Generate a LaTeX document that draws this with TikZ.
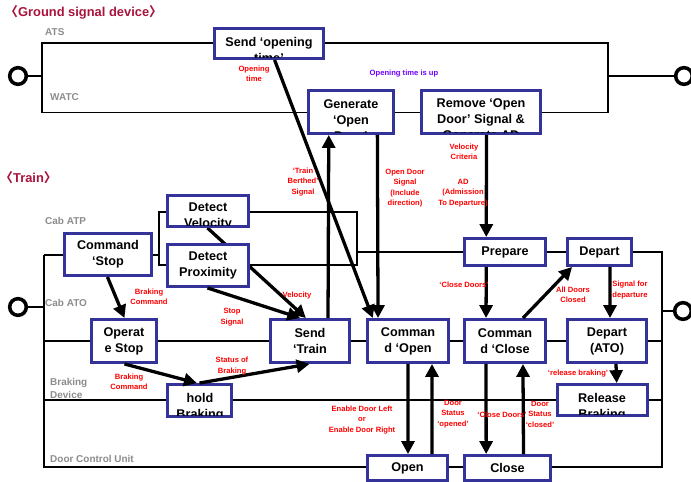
\documentclass[tikz,border=0pt]{standalone}
\usepackage{fontspec}
\setmainfont{Liberation Sans}
\newfontfamily\cjkfont{Noto Sans CJK SC}
\usetikzlibrary{arrows.meta,calc,fit}

\definecolor{boxblue}{RGB}{51,51,153}
\definecolor{lanegray}{RGB}{140,140,140}
\definecolor{titlered}{RGB}{170,20,60}
\definecolor{msgred}{RGB}{255,0,0}
\definecolor{msgviolet}{RGB}{110,0,255}

\pgfdeclarelayer{bg}
\pgfdeclarelayer{under}
\pgfsetlayers{bg,under,main}

\tikzset{
  lane/.style={line width=1.5pt, black},
  stub/.style={line width=2.2pt, black},
  port/.style={circle, draw=black, fill=white, line width=3pt, minimum size=0.5cm, inner sep=0pt},
  procbox/.style={draw=boxblue, line width=2.5pt, fill=white, inner sep=0pt},
  boxtext/.style={font=\bfseries\fontsize{10.8}{13.7}\selectfont, align=center, inner sep=0pt},
  flow/.style={line width=2.8pt, -{Triangle[length=11pt,width=11pt]}},
  msg/.style={text=msgred, font=\bfseries\fontsize{6.5}{9}\selectfont, align=center, inner sep=0pt},
  lanelabel/.style={text=lanegray, font=\bfseries\fontsize{8.5}{11}\selectfont, align=left, inner sep=0pt},
  sectiontitle/.style={text=titlered, font=\bfseries\fontsize{11}{13}\selectfont, inner sep=0pt, anchor=base west},
}

% process box with its text centred
\newcommand\procnode[6]{%
  \node[procbox, fit={(#2,#3) (#4,#5)}] (#1) {};
  \node[boxtext] (#1-t) at (#1.center) {#6};
}
% process box whose text runs past its lower edge and is cut off there
\newcommand\proccut[8]{%
  \node[procbox, fit={(#2,#3) (#4,#5)}] (#1) {};
  \begin{scope}
    \clip (#2+1.3,#3+1.3) rectangle (#4-1.3,#5-1.3);
    \node[boxtext, anchor=north] (#1-t) at (#6,#7) {#8};
  \end{scope}
}

\begin{document}
\begin{tikzpicture}[x=0.03cm, y=-0.03cm]
\useasboundingbox (0,0) rectangle (691,482);
\begin{pgfonlayer}{bg}
  \fill[white] (0,0) rectangle (691,482);
\end{pgfonlayer}

% ---------- section titles ----------
\node[sectiontitle] (gtitle) at (5,17) {{\cjkfont 〈}Ground signal device{\cjkfont 〉}};
\node[sectiontitle] (ttitle) at (0,183) {{\cjkfont 〈}Train{\cjkfont 〉}};

% ---------- swimlanes ----------
\begin{pgfonlayer}{under}
  % ground: ATS / WATC
  \draw[lane] (42,43) rectangle (608,112.5);
  % train lanes
  \draw[lane] (44,255) -- (44,467) -- (662,467) -- (662,252) -- (357,252);
  \draw[lane] (44,255) -- (159,255);
  \draw[lane] (159,212) rectangle (357,265);
  \draw[lane] (44,341) -- (662,341);
  \draw[lane] (44,400) -- (662,400);
\end{pgfonlayer}

\node[port] (gL) at (18,76) {};
\node[port] (gR) at (684,76) {};
\node[port] (tL) at (18,307) {};
\node[port] (tR) at (683,311) {};
\coordinate (gLbus) at (42,76);
\coordinate (gRbus) at (608,76);
\coordinate (tLbus) at (44,307);
\coordinate (tRbus) at (662,311);
\draw[stub] (gL) -- (gLbus);
\draw[stub] (gR) -- (gRbus);
\draw[stub] (tL) -- (tLbus);
\draw[stub] (tR) -- (tRbus);

% lane labels
\node[lanelabel, anchor=west] (lATS) at (45,32) {ATS};
\node[lanelabel, anchor=west] (lWATC) at (50,97) {WATC};
\node[lanelabel, anchor=west] (lATP) at (45,221) {Cab ATP};
\node[lanelabel, anchor=west] (lATO) at (45,303) {Cab ATO};
\node[lanelabel, anchor=north west] (lBrake) at (50,378) {Braking\\Device};
\node[lanelabel, anchor=west] (lDCU) at (50,459) {Door Control Unit};

% ---------- process boxes ----------
\proccut{sendOT}{214.5}{28.5}{323.5}{58.5}{269}{37}{Send ‘opening\\time’}
\proccut{generate}{308.5}{90.5}{393.5}{133.5}{351}{99}{Generate\\‘Open\\Door’}
\proccut{remove}{421.5}{90.5}{540.5}{133.5}{481}{98}{Remove ‘Open\\Door’ Signal \&\\Generate AD}

\procnode{cmdStop}{64.5}{233.5}{151.5}{275.5}{Command\\‘Stop}
\proccut{detVel}{167.5}{195.5}{248.5}{226.5}{208}{203}{Detect\\Velocity}
\procnode{detProx}{167.5}{244.5}{248.5}{286.5}{Detect\\Proximity}

\procnode{opStop}{91.5}{319.5}{156.5}{362.5}{Operat\\e Stop}
\procnode{sendTrain}{270.5}{319.5}{349.5}{362.5}{Send\\‘Train}
\procnode{cmdOpen}{367.5}{319.5}{448.5}{362.5}{Comman\\d ‘Open}
\procnode{cmdClose}{464.5}{319.5}{545.5}{362.5}{Comman\\d ‘Close}
\procnode{departATO}{567.5}{319.5}{646.5}{362.5}{Depart\\(ATO)}

\procnode{prepare}{464.5}{238.5}{545.5}{265.5}{Prepare}
\procnode{depart}{567.5}{238.5}{631.5}{265.5}{Depart}

\proccut{hold}{167.5}{384.5}{231.5}{416.5}{200}{393}{hold\\Braking}
\proccut{release}{557.5}{384.5}{647.5}{415.5}{602}{393}{Release\\Braking}

\procnode{open}{367.5}{455.5}{447.5}{480.5}{Open}
\procnode{close}{464.5}{455.5}{550.5}{480.5}{Close}

% ---------- message flows ----------
\begin{pgfonlayer}{under}
  \draw[flow] ($(detVel.south west)!0.494!(detVel.south east)$) -- ($(sendTrain.north west)!0.45!(sendTrain.north east)$);
\end{pgfonlayer}
\draw[flow] ($(sendOT.south west)!0.55!(sendOT.south east)$) -- ($(cmdOpen.north west)!0.08!(cmdOpen.north east)$);
\draw[flow] ($(sendTrain.north west)!0.72!(sendTrain.north east)$) -- ($(generate.south west)!0.247!(generate.south east)$);
\draw[flow] ($(generate.south west)!0.80!(generate.south east)$) -- ($(cmdOpen.north west)!0.143!(cmdOpen.north east)$);
\draw[flow] ($(remove.south west)!0.545!(remove.south east)$) -- ($(prepare.north west)!0.277!(prepare.north east)$);
\draw[flow] ($(prepare.south west)!0.277!(prepare.south east)$) -- ($(cmdClose.north west)!0.274!(cmdClose.north east)$);
\draw[flow] ($(cmdClose.north west)!0.714!(cmdClose.north east)$) -- ($(depart.south west)!0.09!(depart.south east)$);
\draw[flow] ($(depart.south west)!0.657!(depart.south east)$) -- ($(departATO.north west)!0.537!(departATO.north east)$);
\draw[flow] ($(departATO.south west)!0.61!(departATO.south east)$) -- ($(release.north west)!0.652!(release.north east)$);
\draw[flow] ($(cmdStop.south west)!0.494!(cmdStop.south east)$) -- ($(opStop.north west)!0.507!(opStop.north east)$);
\draw[flow] ($(detProx.south west)!0.494!(detProx.south east)$) -- ($(sendTrain.north west)!0.38!(sendTrain.north east)$);
\draw[flow] ($(opStop.south west)!0.507!(opStop.south east)$) -- ($(hold.north west)!0.46!(hold.north east)$);
\draw[flow] ($(hold.north west)!0.5!(hold.north east)$) -- ($(sendTrain.south west)!0.494!(sendTrain.south east)$);
\draw[flow] ($(cmdOpen.south west)!0.5!(cmdOpen.south east)$) -- ($(open.north west)!0.506!(open.north east)$);
\draw[flow] ($(open.north west)!0.795!(open.north east)$) -- ($(cmdOpen.south west)!0.786!(cmdOpen.south east)$);
\draw[flow] ($(cmdClose.south west)!0.274!(cmdClose.south east)$) -- ($(close.north west)!0.26!(close.north east)$);
\draw[flow] ($(close.north west)!0.68!(close.north east)$) -- ($(cmdClose.south west)!0.714!(cmdClose.south east)$);

% ---------- message labels ----------
\node[msg] (mOpenTime) at (254,74) {Opening\\time};
\node[msg, text=msgviolet] (mTimeUp) at (404,74) {Opening time is up};
\node[msg] (mBerthed) at (303,182) {‘Train\\Berthed’\\Signal};
\node[msg] (mOpenSig) at (405,188) {Open Door\\Signal\\(Include\\direction)};
\node[msg] (mVelCrit) at (464,152) {Velocity\\Criteria};
\node[msg] (mAD) at (463,193) {AD\\(Admission\\To Departure)};
\node[msg] (mCloseUp) at (464,285) {‘Close Doors’};
\node[msg] (mAllClosed) at (573,295) {All Doors\\Closed};
\node[msg] (mSigDep) at (630,290) {Signal for\\departure};
\node[msg] (mRelease) at (578,374) {‘release braking’};
\node[msg] (mBrakeCmdA) at (149,297) {Braking\\Command};
\node[msg] (mVelocity) at (297,296) {Velocity};
\node[msg] (mStopSig) at (232,317) {Stop\\Signal};
\node[msg] (mStatus) at (232,366) {Status of\\Braking};
\node[msg] (mBrakeCmdB) at (129,382) {Braking\\Command};
\node[msg] (mEnable) at (362,420) {Enable Door Left\\or\\Enable Door Right};
\node[msg] (mOpened) at (453,414) {Door\\Status\\‘opened’};
\node[msg] (mCloseDn) at (502,415) {‘Close Doors’};
\node[msg] (mClosed) at (540,414) {Door\\Status\\‘closed’};
\end{tikzpicture}
\end{document}
